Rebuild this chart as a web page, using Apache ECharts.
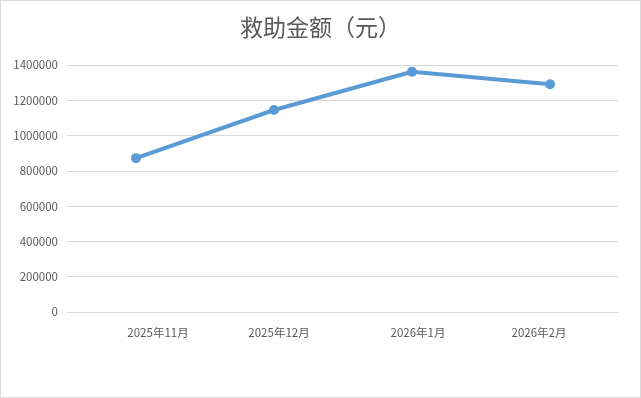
<!DOCTYPE html>
<html>
<head>
<meta charset="utf-8">
<script src="https://cdn.jsdelivr.net/npm/echarts@6/dist/echarts.min.js"></script>
<style>
  html, body { margin: 0; padding: 0; background: #fff; }
  #chart { position: absolute; left: 0; top: 0; width: 639px; height: 396px; border: 1px solid #d9d9d9; }
</style>
</head>
<body>
<div id="chart"></div>
<script>
var months = ['2025年11月', '2025年12月', '2026年1月', '2026年2月'];
var amounts = [872000, 1145000, 1362000, 1291000];
var yTicks = [0, 200000, 400000, 600000, 800000, 1000000, 1200000, 1400000];

var font = '"Noto Sans CJK SC", "Microsoft YaHei", sans-serif';
var labelStyle = { fontFamily: font, fontSize: 11.5, color: '#595959' };

// the source chart sets its month labels a little off the points
var labelShift = [
    [0, 0, 0, 44],
    [0, 0, 0, 10],
    [0, 0, 0, 12],
    [0, 22, 0, 0]
];
var richLabels = {};
labelShift.forEach(function (p, i) {
    richLabels['m' + i] = Object.assign({ padding: p }, labelStyle);
});

var option = {
    animation: false,
    title: {
        text: '救助金额（元）',
        left: 'center',
        top: 10,
        textStyle: { fontFamily: font, fontSize: 23, fontWeight: 'normal', color: '#595959' }
    },
    grid: { left: 66, right: 21, top: 64, bottom: 85 },
    xAxis: {
        type: 'category',
        data: months,
        boundaryGap: true,
        axisLine: { show: false },
        axisTick: { show: false },
        axisLabel: Object.assign({
            margin: 15,
            formatter: function (v, i) { return '{m' + i + '|' + v + '}'; },
            rich: richLabels
        }, labelStyle)
    },
    yAxis: {
        type: 'value',
        min: yTicks[0],
        max: yTicks[yTicks.length - 1],
        interval: yTicks[1] - yTicks[0],
        axisLine: { show: false },
        axisTick: { show: false },
        axisLabel: Object.assign({
            margin: 9,
            formatter: function (v) { return String(v); }
        }, labelStyle),
        splitLine: { lineStyle: { color: '#d9d9d9', width: 1 } }
    },
    series: [{
        name: '救助金额（元）',
        type: 'line',
        data: amounts,
        symbol: 'circle',
        symbolSize: 10,
        lineStyle: { color: '#5b9bd5', width: 4 },
        itemStyle: { color: '#5b9bd5' }
    }]
};

var myChart = echarts.init(document.getElementById('chart'));
myChart.setOption(option);
</script>
</body>
</html>
